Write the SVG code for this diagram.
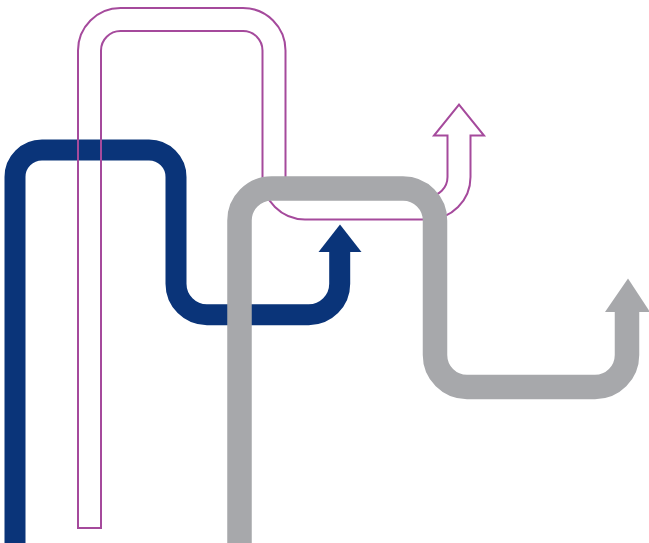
<svg xmlns="http://www.w3.org/2000/svg" width="649" height="543" viewBox="0 0 649 543">
  <style>
    .pipe { fill: none; stroke-linecap: butt; stroke-linejoin: miter; }
    .navy { stroke: #0a3479; stroke-width: 21; }
    .navyfill { fill: #0a3479; }
    .grey { stroke: #a7a8ab; stroke-width: 24.5; }
    .greyfill { fill: #a7a8ab; }
    .outline { fill: none; stroke: #a54a9c; stroke-width: 2; stroke-linejoin: miter; }
  </style>
  <rect width="649" height="543" fill="#ffffff"/>
  <g id="navy-pipe">
    <path class="pipe navy" d="M15,543 V177 A27,27 0 0 1 42,150 H149 A27,27 0 0 1 176,177 V283.7 A31,31 0 0 0 207,314.7 H308.7 A31,31 0 0 0 339.7,283.7 V251"/>
    <polygon class="navyfill" points="318.5,252 340,224.5 361.5,252"/>
  </g>
  <g id="purple-pipe">
    <path class="outline" d="M78,528 V50.5 A42.5,42.5 0 0 1 120.5,8 H243 A42.5,42.5 0 0 1 285.5,50.5 V177 A19.5,19.5 0 0 0 305,196.5 H428 A19.5,19.5 0 0 0 447.5,177 V135.5 H434 L459,104.5 L484,135.5 H470.5 V177 A42.5,42.5 0 0 1 428,219.5 H305 A42.5,42.5 0 0 1 262.5,177 V50.5 A19.5,19.5 0 0 0 243,31 H120.5 A19.5,19.5 0 0 0 101,50.5 V528 Z"/>
  </g>
  <g id="grey-pipe">
    <path class="pipe grey" d="M239.5,543 V220.5 A32,32 0 0 1 271.5,188.5 H403 A32,32 0 0 1 435,220.5 V355 A32,32 0 0 0 467,387 H595 A32,32 0 0 0 627,355 V311"/>
    <polygon class="greyfill" points="605,312 628,278.5 650,312"/>
  </g>
</svg>
